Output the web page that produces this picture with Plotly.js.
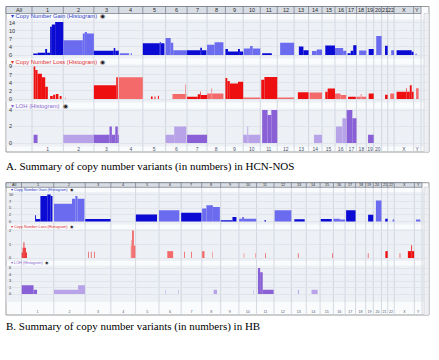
<!DOCTYPE html>
<html><head><meta charset="utf-8">
<script src="https://cdn.plot.ly/plotly-3.0.1.min.js"></script>
<style>html,body{margin:0;padding:0;background:#fff;} #chart{width:439px;height:360px;}</style>
</head><body><div id="chart"></div>
<script>
// ---------------- DATA ----------------
const chromNames = ['1','2','3','4','5','6','7','8','9','10','11','12','13','14','15','16','17','18','19','20','21','22','X','Y'];
const chromLengths = [249,243,198,191,181,171,159,146,141,136,135,134,115,107,103,90,81,78,59,63,48,51,155,59]; // Mb
const axisLabelsA = ['1','2','3','4','5','6','7','8','9','10','11','12','13','14','15','16','17','18','19','20','X','Y'];
const axisLabelsB = chromNames;

// segments: [chromosome, start Mb, end Mb, count]
const gainA = [
 ['1',10,45,0.7],['1',45,105,1],['1',105,120,2.6],['1',120,144,1],['1',144,158,12.3],['1',158,184,13.3],['1',184,249,14.4],
 ['2',0,155,6.4],['2',155,171,9.3],['2',171,188,10],['2',188,243,9.3],
 ['3',0,158,1.9],['3',158,170,3],['3',170,198,1.9],
 ['4',8,82,0.8],['4',95,104,0.8],
 ['5',0,135,5.1],['5',135,142,5.6],['5',142,172,5.1],
 ['6',0,41,7.4],['6',41,61,5.3],['6',61,171,2.1],
 ['7',0,105,2.1],['7',105,118,3.1],['7',118,154,2.1],
 ['8',0,60,4.5],['8',60,130,5.5],
 ['9',0,20,2.6],['9',20,100,1.5],['9',100,115,2.6],['9',115,141,1.5],
 ['10',5,55,2.8],['10',55,75,3.9],['10',75,136,2.8],
 ['11',15,92,0.8],
 ['12',23,134,5.3],
 ['13',38,74,3.7],['13',74,115,2.1],
 ['14',27,65,1.7],['14',65,107,2.4],
 ['15',26,103,4.1],
 ['16',0,65,3],['16',65,90,1.9],
 ['17',10,35,0.8],['17',35,55,1.9],['17',55,81,4.2],
 ['18',21,78,2],
 ['19',19,59,2.6],
 ['20',20,63,8.3],
 ['21',27,48,4],
 ['22',28,51,2.1],
 ['X',20,140,2.1],['X',140,155,1.4],
 ['Y',15,25,0.5]
];
const lossA = [
 ['1',13,26,9],['1',26,44,8],['1',44,79,7],['1',79,105,6],['1',105,126,3.4],['1',144,165,0.8],['1',168,185,1.2],['1',190,210,1.4],['1',220,235,0.8],
 ['2',14,18,0.5],
 ['3',0,178,3.8],['3',178,190,6],['3',190,192,3.8],
 ['4',0,191,6],
 ['5',65,78,0.7],['5',93,101,0.7],['5',120,128,0.9],
 ['6',55,157,1.4],['6',157,162,4],['6',162,165,1.4],
 ['7',0,85,0.6],['7',85,105,1.3],['7',105,110,2],['7',110,159,1.1],
 ['8',0,35,1.5],['8',35,40,3],['8',40,130,1.5],
 ['9',0,15,5.8],['9',15,35,5],['9',35,100,4.3],['9',100,141,4.8],
 ['10',0,136,0.4],
 ['11',8,33,5.3],['11',33,135,6.1],
 ['12',0,134,0.4],
 ['13',30,115,1.9],
 ['14',8,107,1.8],
 ['15',26,45,2],['15',45,103,2.9],
 ['16',0,44,1.5],['16',44,90,1.1],
 ['17',14,76,0.6],
 ['18',0,34,0.6],['18',34,40,1.4],['18',40,78,0.6],
 ['19',19,59,1.5],
 ['21',27,48,1.2],
 ['22',20,51,1.5],
 ['X',20,95,2],['X',95,100,3],['X',100,125,2],['X',125,140,3.8],['X',140,155,2],
 ['Y',20,40,3]
];
const lohA = [
 ['1',13,44,1],
 ['2',0,243,1],
 ['3',0,124,1],['3',124,143,2],['3',143,170,1],['3',170,190,2],['3',190,198,1],
 ['6',0,69,1],['6',69,165,2],
 ['7',0,159,1],
 ['10',0,33,1],['10',33,40,2],['10',40,136,1],
 ['11',15,58,4],['11',58,88,3.4],['11',88,135,4],
 ['14',43,107,1],
 ['16',8,59,2],['16',59,90,3],
 ['17',3,48,4],['17',48,81,3],
 ['19',14,59,1]
];
const gainB = [
 ['1',105,112,2.3],['1',112,146,0.9],['1',146,199,9.4],['1',199,225,10],['1',225,239,9.4],
 ['2',2,141,6.6],['2',141,167,8.4],['2',167,183,9.4],['2',183,237,8.4],
 ['3',0,196,0.9],
 ['5',2,166,2.6],
 ['6',0,157,4.2],
 ['7',0,157,3.2],
 ['8',3,36,4.8],['8',36,86,6],['8',86,140,5.4],
 ['9',0,91,0.5],['9',91,122,1.7],
 ['10',2,25,1],['10',25,39,1.7],['10',39,134,1],
 ['11',61,73,0.5],
 ['12',5,134,4.2],
 ['13',23,103,0.8],
 ['15',5,90,0.9],
 ['16',0,50,1],['16',50,90,0.7],
 ['17',8,81,4.2],
 ['19',19,59,2.5],
 ['20',20,63,7.8],
 ['21',29,48,1],
 ['22',38,51,0.7],
 ['Y',13,46,0.7]
];
const lossB = [
 ['1',2,9,0.4],['1',9,16,0.75],['1',16,22,1.15],['1',22,33,0.75],['1',33,41,0.4],
 ['3',23,27,0.45],['3',44,48,0.45],['3',71,75,0.45],
 ['4',154,160,0.9],['4',160,164,1.3],['4',164,178,2],['4',178,189,0.9],
 ['6',64,109,0.5],
 ['7',23,27,0.45],['7',76,80,0.45],
 ['8',3,21,0.5],['8',81,85,0.45],
 ['10',37,41,0.35],['10',128,132,0.35],
 ['11',66,70,0.35],
 ['13',51,55,0.35],
 ['15',96,100,0.35],
 ['19',17,21,0.35],
 ['21',30,48,0.5],
 ['X',42,46,0.35],['X',105,131,0.5],['X',131,137,0.93],['X',137,153,0.5]
];
const lohB = [
 ['1',2,93,2],['1',93,120,1],
 ['2',2,188,1],['2',188,241,2],
 ['6',48,52,1],['6',149,153,1],
 ['8',92,118,1],
 ['10',111,115,1],
 ['11',11,28,6],['11',28,48,5],['11',48,132,1],
 ['13',51,55,1],
 ['14',41,88,1]
];
const gainTicksA = [0,3.5,7,10.5,14], gainTickTextA = ['0','4','7','10','14'];
const lossTicksA = [0,2.25,4.5,6.75,9], lossTickTextA = ['0','2','4','7','9'];
const lohTicksA = [0,2,4], lohTickTextA = ['0','2','4'];
const gainTicksB = [0,2.5,5,7.5,10], gainTickTextB = ['0','2','5','7','10'];
const lossTicksB = [0,1,2], lossTickTextB = ['0','1','2'];
const lohTicksB = [0,1.5,3,4.5,6], lohTickTextB = ['0','1','3','4','6'];
const trackTitles = ['Copy Number Gain (Histogram)','Copy Number Loss (Histogram)','LOH (Histogram)'];
const captionA = 'A. Summary of copy number variants (in numbers) in HCN-NOS';
const captionB = 'B. Summary of copy number variants (in numbers) in HB';

// ---------------- LAYOUT HELPERS ----------------
const W = 439, H = 360;
const xp = px => px / W, yp = px => 1 - px / H;
const off = []; let acc = 0; chromLengths.forEach(l => { off.push(acc); acc += l; }); const genome = acc;
const idx = n => chromNames.indexOf(n);
const centers = names => names.map(n => off[idx(n)] + chromLengths[idx(n)] / 2);
const SANS = 'Liberation Sans, Arial, sans-serif';

const panels = [
 { xa:'x', xkey:'xaxis', fr:[6,429,6.5,152], hd:[6.5,13.5], c0:32, c1:421, axisPos:144.8, labels:axisLabelsA,
   hdFont:5.5, tickFont:5.5, titleFont:5.8, labFont:5, caption:captionA, capY:166,
   tracks:[
    {ya:'y', key:'yaxis', data:gainA, cols:['#0b0bd4','#6b6bef'], tcol:'#2a3cc8', ty:16.4, dom:[19.5,58.5], z:55, tp:22.8, tv:14, tk:gainTicksA, tt:gainTickTextA},
    {ya:'y2', key:'yaxis2', data:lossA, cols:['#ee1010','#f46a6a'], tcol:'#e03030', ty:61.5, dom:[64.5,102.5], z:99, tp:66.5, tv:9, tk:lossTicksA, tt:lossTickTextA},
    {ya:'y3', key:'yaxis3', data:lohA, cols:['#8a60d6','#b8a2e8'], tcol:'#8a6ad0', ty:105.5, dom:[108.5,146.5], z:143, tp:110, tv:4, tk:lohTicksA, tt:lohTickTextA}
   ]},
 { xa:'x2', xkey:'xaxis2', fr:[6,429,182.7,315], hd:[182.7,187.3], c0:21.5, c1:422, axisPos:308.3, labels:axisLabelsB,
   hdFont:3.8, tickFont:3.8, titleFont:3.8, labFont:3.6, caption:captionB, capY:326,
   tracks:[
    {ya:'y4', key:'yaxis4', data:gainB, cols:['#0b0bd4','#6b6bef'], tcol:'#2a3cc8', ty:189.6, dom:[192,224.5], z:221.5, tp:194.5, tv:10, tk:gainTicksB, tt:gainTickTextB},
    {ya:'y5', key:'yaxis5', data:lossB, cols:['#ee1010','#f46a6a'], tcol:'#e03030', ty:226.8, dom:[229,261], z:258, tp:230.5, tv:2, tk:lossTicksB, tt:lossTickTextB},
    {ya:'y6', key:'yaxis6', data:lohB, cols:['#8a60d6','#b8a2e8'], tcol:'#8a6ad0', ty:263.1, dom:[265.5,302], z:294, tp:268, tv:6, tk:lohTicksB, tt:lohTickTextB}
   ]}
];

const traces = [], shapes = [], annotations = [];
const layout = {
  width: W, height: H, margin: {l:0, r:0, t:0, b:0}, paper_bgcolor: '#ffffff', plot_bgcolor: 'rgba(0,0,0,0)',
  barmode: 'overlay', showlegend: false, font: {family: SANS, color: '#222'}, hovermode: false
};

panels.forEach(p => {
  const ppm = (p.c1 - p.c0) / genome;
  const xr = [-(p.c0 - p.fr[0]) / ppm, genome + (p.fr[1] - p.c1) / ppm];
  layout[p.xkey] = {
    domain: [xp(p.fr[0]), xp(p.fr[1])], range: xr, anchor: 'free', position: yp(p.axisPos),
    showgrid: false, zeroline: false, showline: false, ticks: '', tickangle: 0,
    tickmode: 'array', tickvals: centers(p.labels), ticktext: p.labels,
    tickfont: {size: p.labFont, color: '#4a5570', family: SANS}, fixedrange: true
  };
  // frame
  shapes.push({type:'rect', xref:'paper', yref:'paper', x0:xp(p.fr[0]), x1:xp(p.fr[1]), y0:yp(p.fr[3]), y1:yp(p.fr[2]),
    fillcolor:'#fafbfc', line:{color:'#9c9c9c', width:1}, layer:'below'});
  // track backgrounds
  p.tracks.forEach(t => {
    shapes.push({type:'rect', xref:'paper', yref:'paper', x0:xp(p.fr[0]+0.5), x1:xp(p.fr[1]-5), y0:yp(t.dom[1]), y1:yp(t.dom[0]),
      fillcolor:'#edf0f5', line:{width:0}, layer:'below'});
  });
  // scrollbar strip
  shapes.push({type:'rect', xref:'paper', yref:'paper', x0:xp(p.fr[1]-5), x1:xp(p.fr[1]), y0:yp(p.fr[3]), y1:yp(p.hd[1]),
    fillcolor:'#eeeff2', line:{color:'#c9ccd2', width:0.6}, layer:'below'});
  // vertical chromosome boundary lines
  off.concat([genome]).forEach(b => {
    shapes.push({type:'line', xref:p.xa, yref:'paper', x0:b, x1:b, y0:yp(p.fr[3]), y1:yp(p.hd[1]),
      line:{color:'#cbd1da', width:0.8}, layer:'below'});
  });
  // header band
  shapes.push({type:'rect', xref:'paper', yref:'paper', x0:xp(p.fr[0]), x1:xp(p.c1), y0:yp(p.hd[1]), y1:yp(p.hd[0]),
    fillcolor:'#d8dce3', line:{color:'#6f7684', width:0.7}, layer:'below'});
  off.forEach(b => {
    shapes.push({type:'line', xref:p.xa, yref:'paper', x0:b, x1:b, y0:yp(p.hd[1]), y1:yp(p.hd[0]),
      line:{color:'#6f7684', width:0.7}, layer:'below'});
  });
  const hy = yp((p.hd[0] + p.hd[1]) / 2);
  annotations.push({xref:'paper', yref:'paper', x:xp((p.fr[0] + p.c0) / 2), y:hy, text:'All', showarrow:false,
    font:{size:p.hdFont, color:'#2a2a2a', family:SANS}, xanchor:'center', yanchor:'middle'});
  chromNames.forEach((n, i) => {
    annotations.push({xref:p.xa, yref:'paper', x:off[i] + chromLengths[i] / 2, y:hy, text:n, showarrow:false,
      font:{size:p.hdFont, color:'#2a2a2a', family:SANS}, xanchor:'center', yanchor:'middle'});
  });
  // tracks
  p.tracks.forEach((t, k) => {
    const ppu = (t.z - t.tp) / t.tv;
    const lo = -(t.dom[1] - t.z) / ppu, hi = t.tv + (t.tp - t.dom[0]) / ppu;
    layout[t.key] = {
      domain: [yp(t.dom[1]), yp(t.dom[0])], range: [lo, hi], anchor: p.xa,
      tickmode: 'array', tickvals: t.tk, ticktext: t.tt, ticklabelposition: 'inside', ticklabeloverflow: 'allow', ticks: '',
      tickfont: {size: p.tickFont, color: '#333', family: SANS},
      showgrid: true, gridcolor: '#dde1e8', gridwidth: 0.8, zeroline: false, showline: false, fixedrange: true
    };
    const seg = t.data;
    traces.push({
      type: 'bar', xaxis: p.xa, yaxis: t.ya,
      x: seg.map(s => off[idx(s[0])] + (s[1] + s[2]) / 2),
      width: seg.map(s => s[2] - s[1]),
      y: seg.map(s => s[3]),
      marker: {color: seg.map(s => t.cols[idx(s[0]) % 2]), line: {width: 0}},
      hoverinfo: 'skip'
    });
    annotations.push({xref:'paper', yref:'paper', x:xp(p.fr[0] + 2.5), y:yp(t.ty), xanchor:'left', yanchor:'middle', showarrow:false,
      text: '▾ ' + trackTitles[k] + '  <span style="color:#1a1a1a">◉</span>',
      font:{size:p.titleFont, color:t.tcol, family:SANS}});
  });
  annotations.push({xref:'paper', yref:'paper', x:xp(4), y:yp(p.capY), xanchor:'left', yanchor:'middle', showarrow:false,
    text:p.caption, font:{size:11, color:'#000', family:'Liberation Serif, Times New Roman, serif'}});
});

layout.shapes = shapes;
layout.annotations = annotations;
Plotly.newPlot('chart', traces, layout, {staticPlot: true, displayModeBar: false});
</script>
</body></html>
